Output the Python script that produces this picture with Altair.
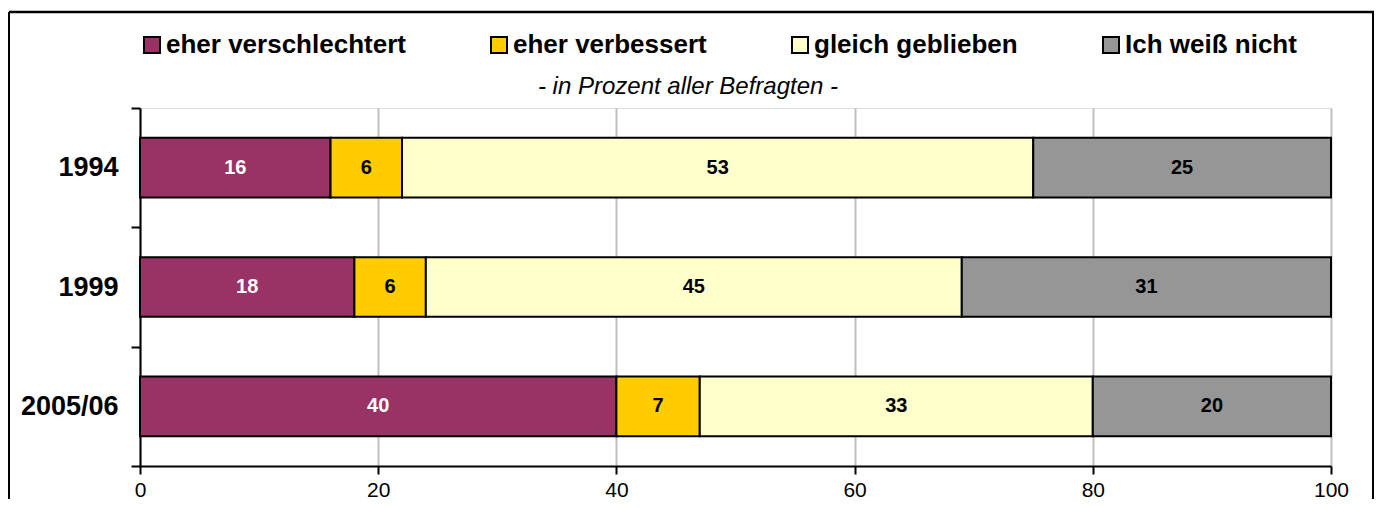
import altair as alt
import pandas as pd

years = ["1994", "1999", "2005/06"]
categories = ["eher verschlechtert", "eher verbessert", "gleich geblieben", "Ich weiß nicht"]
colors = ["#993366", "#FFCC00", "#FFFFCC", "#969696"]
v_schlechter = [16, 18, 40]
v_besser = [6, 6, 7]
v_gleich = [53, 45, 33]
v_weissnicht = [25, 31, 20]
x_ticks = [0, 20, 40, 60, 80, 100]
subtitle = ["- in Prozent aller Befragten -"]

series = [v_schlechter, v_besser, v_gleich, v_weissnicht]
rows = []
for ci, (cat, vals) in enumerate(zip(categories, series)):
    for y, v in zip(years, vals):
        rows.append({"year": y, "cat": cat, "order": ci, "value": v})
df = pd.DataFrame(rows)

FONT = "Liberation Sans"

base = alt.Chart(df).transform_stack(
    stack="value", groupby=["year"], as_=["x0", "x1"],
    sort=[alt.SortField("order", order="ascending")]
).transform_calculate(mid="(datum.x0 + datum.x1) / 2")

yenc = alt.Y("year:N", sort=years, title=None,
             scale=alt.Scale(paddingInner=0, paddingOuter=0),
             axis=alt.Axis(labelFont=FONT, labelFontSize=27, labelFontWeight="bold",
                           labelColor="black", labelPadding=13, tickSize=9,
                           tickWidth=2, tickColor="black", tickBand="extent",
                           domainColor="black", domainWidth=2, grid=False))

bars = base.mark_bar(stroke="black", strokeWidth=2,
                     height=alt.RelativeBandSize(0.5)).encode(
    x=alt.X("x0:Q", scale=alt.Scale(domain=[0, 100], nice=False), title=None,
            axis=alt.Axis(values=x_ticks, labelFont=FONT, labelFontSize=21,
                          labelColor="black", labelPadding=5, labelFlush=False,
                          tickSize=8, tickWidth=2, tickColor="black",
                          domainColor="black", domainWidth=2, grid=True,
                          gridColor="#c0c0c0", gridWidth=2)),
    x2="x1:Q",
    y=yenc,
    fill=alt.Fill("cat:N", sort=categories,
                  scale=alt.Scale(domain=categories, range=colors),
                  legend=alt.Legend(title=None, orient="none", legendX=-1,
                                    legendY=-76, direction="horizontal",
                                    columns=4, columnPadding=80,
                                    symbolType="square", symbolSize=256,
                                    symbolStrokeColor="black",
                                    symbolStrokeWidth=2, labelFont=FONT,
                                    labelFontSize=26, labelFontWeight="bold",
                                    labelColor="black", labelOffset=1,
                                    padding=0, labelLimit=400)),
)

labels = base.mark_text(font=FONT, fontSize=20, fontWeight="bold").encode(
    x=alt.X("mid:Q"),
    y=alt.Y("year:N", sort=years),
    text=alt.Text("value:Q"),
    color=alt.condition(alt.datum.cat == "eher verschlechtert",
                        alt.value("white"), alt.value("black")),
)

sub = alt.Chart(pd.DataFrame({"t": subtitle})).mark_text(
    font=FONT, fontSize=24, fontStyle="italic", color="black",
    align="center", baseline="middle").encode(
    text="t:N", x=alt.value(548), y=alt.value(-21))

frame_data = alt.Chart(pd.DataFrame({"k": [0]}))
top_line = frame_data.mark_rule(color="black", strokeWidth=2.5).encode(
    x=alt.value(-131), x2=alt.value(1234), y=alt.value(-96))
left_line = frame_data.mark_rule(color="black", strokeWidth=2).encode(
    x=alt.value(-131), y=alt.value(-96), y2=alt.value(391))
right_line = frame_data.mark_rule(color="black", strokeWidth=2).encode(
    x=alt.value(1233), y=alt.value(-96), y2=alt.value(391))

chart = alt.layer(bars, labels, sub, top_line, left_line, right_line).properties(
    width=1191, height=358,
    autosize=alt.AutoSizeParams(type="none"),
    padding={"left": 132, "top": 100, "right": 44, "bottom": 33},
).configure_view(stroke="#808080", strokeWidth=2).configure(background="white")

chart.save("out.html", embed_options={"renderer": "svg", "actions": False})
